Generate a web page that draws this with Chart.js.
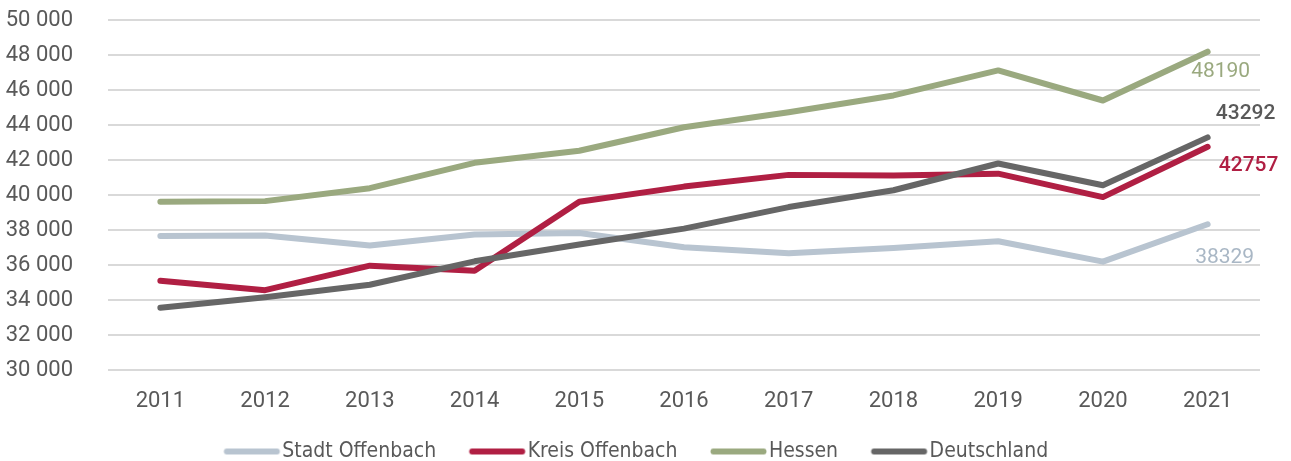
<!DOCTYPE html>
<html><head><meta charset="utf-8">
<script src="https://cdn.jsdelivr.net/npm/chart.js@4"></script>
<style>html,body{margin:0;padding:0;background:#fff;}</style>
</head><body>
<canvas id="c" width="1291" height="461"></canvas>
<script>
// ---- data ----
const years = ['2011','2012','2013','2014','2015','2016','2017','2018','2019','2020','2021'];
const seriesNames = ['Stadt Offenbach','Kreis Offenbach','Hessen','Deutschland'];
const stadtOffenbach = [37660, 37690, 37110, 37740, 37830, 37010, 36670, 36970, 37360, 36190, 38329];
const kreisOffenbach = [35100, 34560, 35960, 35670, 39610, 40480, 41150, 41120, 41220, 39880, 42757];
const hessen         = [39610, 39650, 40390, 41840, 42530, 43870, 44730, 45690, 47120, 45400, 48190];
const deutschland    = [33560, 34160, 34870, 36210, 37170, 38080, 39310, 40270, 41800, 40560, 43292];
const yTickValues = [30000, 32000, 34000, 36000, 38000, 40000, 42000, 44000, 46000, 48000, 50000];

// ---- styles ----
const colors = ['#b8c4d0', '#b01f43', '#9aa97f', '#666666'];
const drawOrder = [3, 1, 2, 0];
const endLabelStyle = [
  {dx: 17, dy: 34,    weight: 400, color: '#a9b7c5'},
  {dx: 41, dy: 19,    weight: 500, color: '#b01f43'},
  {dx: 13, dy: 20.5,  weight: 400, color: '#9aa97f'},
  {dx: 38, dy: -23.5, weight: 500, color: '#595959'}
];
const TEXT = '#595959';
// legend geometry: k = lead-in gap before the swatch, B = box width
const LEG_FS = 21, LEG_K = 25, LEG_LINE = 56, LEG_PAD = 8;
const LEG_B = LEG_K + LEG_LINE + 2.5 - LEG_FS / 2;

function fmt(v) { return String(v).replace(/\B(?=(\d{3})+(?!\d))/g, ' '); }

function swatch(color) {
  const W = 100, H = 10;
  const c = document.createElement('canvas'); c.width = W; c.height = H;
  const g = c.getContext('2d');
  const start = LEG_K - (LEG_B / 2 - W / 2);
  g.strokeStyle = color; g.lineWidth = 6; g.lineCap = 'round';
  g.beginPath(); g.moveTo(start + 3, H / 2); g.lineTo(start + LEG_LINE - 3, H / 2); g.stroke();
  return c;
}

const allSeries = [stadtOffenbach, kreisOffenbach, hessen, deutschland];
const datasets = allSeries.map((d, i) => ({
  label: seriesNames[i],
  data: d,
  borderColor: colors[i],
  backgroundColor: colors[i],
  borderWidth: 6,
  pointRadius: 0,
  pointHoverRadius: 0,
  tension: 0,
  fill: false,
  borderCapStyle: 'round',
  borderJoinStyle: 'round',
  order: drawOrder[i]
}));

const endLabels = {
  id: 'endLabels',
  afterDatasetsDraw(chart) {
    const ctx = chart.ctx;
    chart.data.datasets.forEach((ds, i) => {
      const meta = chart.getDatasetMeta(i);
      const pt = meta.data[meta.data.length - 1];
      const st = endLabelStyle[i];
      ctx.save();
      ctx.font = st.weight + ' 21px Roboto, "Noto Sans", sans-serif';
      ctx.fillStyle = st.color;
      ctx.textAlign = 'center';
      ctx.textBaseline = 'middle';
      ctx.fillText(String(ds.data[ds.data.length - 1]), pt.x + st.dx, pt.y + st.dy);
      ctx.restore();
    });
  }
};

new Chart(document.getElementById('c'), {
  type: 'line',
  data: { labels: years, datasets },
  options: {
    responsive: false,
    animation: false,
    events: [],
    layout: { padding: { left: -13, right: 31, top: 20, bottom: -11 } },
    plugins: {
      tooltip: { enabled: false },
      legend: {
        position: 'bottom',
        labels: {
          usePointStyle: true,
          pointStyleWidth: LEG_B,
          padding: LEG_PAD,
          color: TEXT,
          font: { family: '"DejaVu Sans Condensed", "Liberation Sans Narrow", sans-serif', size: LEG_FS },
          generateLabels: (chart) => chart.data.datasets.map((ds, i) => ({
            text: ds.label,
            fillStyle: colors[i],
            strokeStyle: colors[i],
            lineWidth: 0,
            pointStyle: swatch(colors[i]),
            hidden: false,
            datasetIndex: i,
            fontColor: TEXT
          }))
        }
      }
    },
    scales: {
      x: {
        offset: true,
        grid: { display: false, drawTicks: false },
        border: { display: false },
        ticks: { color: TEXT, font: { family: 'Roboto', size: 22 }, padding: 18, maxRotation: 0 },
        afterFit: (s) => { s.height = 63; }
      },
      y: {
        min: yTickValues[0],
        max: yTickValues[yTickValues.length - 1],
        afterBuildTicks: (s) => { s.ticks = yTickValues.map(v => ({ value: v })); },
        grid: { color: '#d9d9d9', lineWidth: 2, drawTicks: false },
        border: { display: false },
        ticks: {
          color: TEXT,
          font: { family: 'Roboto', size: 22 },
          padding: 35,
          callback: (v) => fmt(v)
        },
        afterFit: (s) => { s.width = 121; s.paddingTop = 0; s.paddingBottom = 0; }
      }
    }
  },
  plugins: [endLabels]
});
</script>
</body></html>
